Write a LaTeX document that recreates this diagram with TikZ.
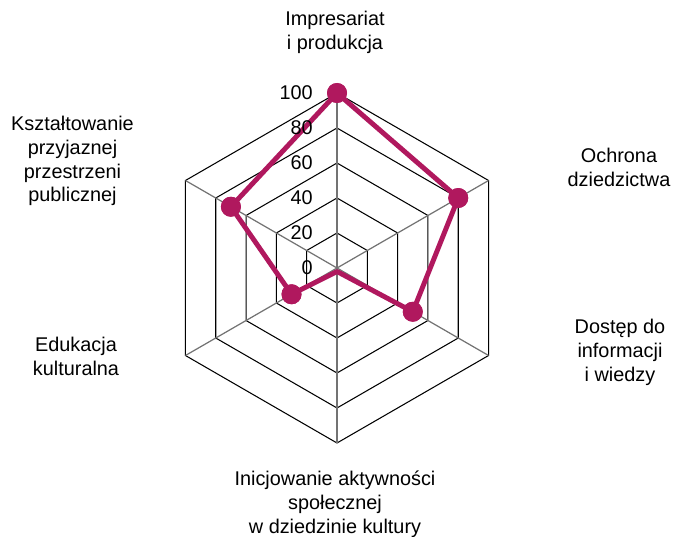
\documentclass[tikz,border=0pt]{standalone}
\usepackage{fontspec}
\setmainfont{Liberation Sans}
\usetikzlibrary{positioning}
\definecolor{wykres}{HTML}{B0185E}

\begin{document}
\begin{tikzpicture}[align=center,
font=\fontsize{11.3}{13.6}\selectfont,
siatka/.style={draw=black,line width=0.6pt,line join=miter},
os/.style={draw=black!55,line width=0.7pt},
skala/.style={anchor=east,inner sep=0pt},
etykieta/.style={anchor=center,inner sep=0pt},
linia/.style={draw=wykres,line width=2.8pt,line join=round},
punkt/.style={circle,fill=wykres,minimum size=0.4cm,inner sep=0pt}
]
\useasboundingbox (0,0) rectangle (13.48,-10.74);
\coordinate (o) at (6.74,-5.36);
%--
\begin{scope}[shift={(o)}]
\foreach \r in {0.7,1.4,2.1,2.8,3.5}
  \draw[siatka] (90:\r) -- (30:\r) -- (-30:\r) -- (-90:\r) -- (-150:\r) -- (150:\r) -- cycle;
\foreach \a in {90,30,-30,-90,-150,150}
  \draw[os] (0,0) -- (\a:3.5);
%----
\node[punkt] (p1) at (90:3.5) {};
\node[punkt] (p2) at (30:2.8) {};
\node[punkt] (p3) at (-30:1.75) {};
\coordinate (p4) at (-90:0.07);
\node[punkt] (p5) at (-150:1.05) {};
\node[punkt] (p6) at (150:2.45) {};
\end{scope}
\draw[linia] (p1.center) -- (p2.center) -- (p3.center) -- (p4) -- (p5.center) -- (p6.center) -- cycle;
\node[punkt] at (p1) {};
\node[punkt] at (p2) {};
\node[punkt] at (p3) {};
\node[punkt] at (p5) {};
\node[punkt] at (p6) {};
%--
\begin{scope}[shift={(o)}]
\foreach \v/\r in {0/0,20/0.7,40/1.4,60/2.1,80/2.8,100/3.5}
  \node[skala] (s\v) at (-0.48,\r) {\v};
\end{scope}
%----
\node[etykieta] (e1) at (6.70,-0.64) {Impresariat\\i produkcja};
\node[etykieta] (e2) at (12.38,-3.34) {Ochrona\\dziedzictwa};
\node[etykieta] (e3) at (12.40,-7.05) {Dostęp do\\informacji\\i wiedzy};
\node[etykieta] (e4) at (6.70,-10.08) {Inicjowanie aktywności\\społecznej\\w dziedzinie kultury};
\node[etykieta] (e5) at (1.52,-7.13) {Edukacja\\kulturalna};
\node[etykieta] (e6) at (1.45,-3.22) {Kształtowanie\\przyjaznej\\przestrzeni\\publicznej};
\end{tikzpicture}
\end{document}
